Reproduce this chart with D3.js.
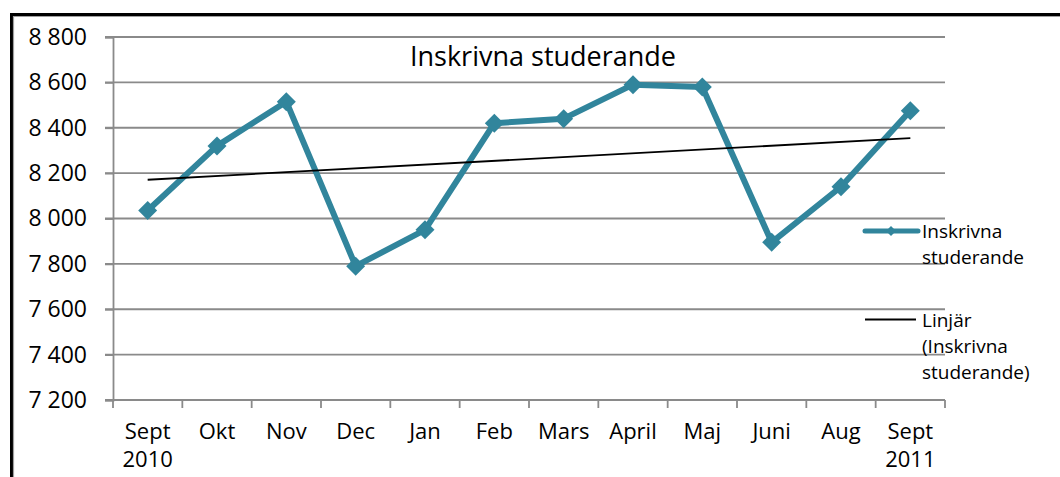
<!DOCTYPE html>
<html>
<head>
<meta charset="utf-8">
<script src="https://cdn.jsdelivr.net/npm/d3@7"></script>
<style>
  html, body { margin: 0; padding: 0; background: #fff; }
  svg { display: block; font-family: "Open Sans", sans-serif; }
</style>
</head>
<body>
<svg id="chart" width="1060" height="477"></svg>
<script>
// ---- data ----
const categories = ["Sept\n2010", "Okt", "Nov", "Dec", "Jan", "Feb", "Mars", "April", "Maj", "Juni", "Aug", "Sept\n2011"];
const values = [8035, 8320, 8515, 7790, 7950, 8420, 8440, 8590, 8580, 7895, 8140, 8475];
const yTicks = [7200, 7400, 7600, 7800, 8000, 8200, 8400, 8600, 8800];
const titleText = "Inskrivna studerande";
const seriesName = "Inskrivna studerande";
const trendName = "Linjär (Inskrivna studerande)";

// ---- layout ----
const svg = d3.select("#chart");
const W = 1060, H = 477;
const plot = { left: 113, right: 945, top: 37, bottom: 400 };
const teal = "#31859c";
const gridColor = "#8a8a8a";

// outer frame
svg.append("path").attr("d", `M11.5,${H + 5} V14.5 H${W + 5}`)
  .attr("fill", "none").attr("stroke", "#000").attr("stroke-width", 3);
svg.append("path").attr("d", `M13.5,${H + 5} V16.5 H${W + 5}`)
  .attr("fill", "none").attr("stroke", "#a0a0a0").attr("stroke-width", 1.2);

const x = d3.scaleBand().domain(categories).range([plot.left, plot.right]).paddingInner(0).paddingOuter(0);
const cx = d => x(d) + x.bandwidth() / 2;
const y = d3.scaleLinear().domain([7200, 8800]).range([plot.bottom, plot.top]);

const locale = d3.formatLocale({ decimal: ",", thousands: " ", grouping: [3], currency: ["", " kr"] });
const fmt = locale.format(",d");

// gridlines
svg.append("g").selectAll("line").data(yTicks).join("line")
  .attr("x1", plot.left - 8).attr("x2", plot.right)
  .attr("y1", d => y(d)).attr("y2", d => y(d))
  .attr("stroke", gridColor).attr("stroke-width", 1.8);

// y axis
const yAxis = svg.append("g").attr("transform", `translate(${plot.left},0)`)
  .call(d3.axisLeft(y).tickValues(yTicks).tickFormat(fmt).tickSize(8).tickPadding(18));
yAxis.select(".domain").attr("stroke", gridColor).attr("stroke-width", 1.8);
yAxis.selectAll(".tick line").attr("stroke", gridColor).attr("stroke-width", 1.8);
yAxis.selectAll("text").attr("font-size", 23).attr("fill", "#000")
  .attr("font-family", "Open Sans, sans-serif");

// x axis
const xAxisG = svg.append("g").attr("transform", `translate(0,${plot.bottom})`);
xAxisG.append("line").attr("x1", plot.left).attr("x2", plot.right).attr("y1", 0).attr("y2", 0)
  .attr("stroke", gridColor).attr("stroke-width", 1.8);
const bounds = categories.map(d => x(d)).concat([plot.right]);
xAxisG.selectAll("line.tk").data(bounds).join("line").attr("class", "tk")
  .attr("x1", d => d).attr("x2", d => d).attr("y1", 0).attr("y2", 8)
  .attr("stroke", gridColor).attr("stroke-width", 1.8);
const xl = xAxisG.selectAll("text").data(categories).join("text")
  .attr("x", d => cx(d)).attr("y", 39)
  .attr("text-anchor", "middle").attr("font-size", 22).attr("fill", "#000");
xl.each(function (d) {
  const parts = d.split("\n");
  const t = d3.select(this);
  parts.forEach((p, i) => {
    t.append("tspan").attr("x", cx(d)).attr("dy", i === 0 ? 0 : 28).text(p);
  });
});

// title
svg.append("text").attr("x", 543).attr("y", 66).attr("text-anchor", "middle")
  .attr("font-size", 27).attr("fill", "#000").text(titleText);

// trend line (least squares)
const n = values.length;
const xs = d3.range(1, n + 1);
const mx = d3.mean(xs), my = d3.mean(values);
const slope = d3.sum(xs, (xi, i) => (xi - mx) * (values[i] - my)) / d3.sum(xs, xi => (xi - mx) ** 2);
const intercept = my - slope * mx;
const trendPts = [[cx(categories[0]), y(intercept + slope * 1)], [cx(categories[n - 1]), y(intercept + slope * n)]];

// series line
const line = d3.line().x((d, i) => cx(categories[i])).y(d => y(d));
svg.append("path").datum(values).attr("d", line)
  .attr("fill", "none").attr("stroke", teal).attr("stroke-width", 6).attr("stroke-linejoin", "round");

svg.append("g").selectAll("path").data(values).join("path")
  .attr("d", d3.symbol().type(d3.symbolSquare).size(180))
  .attr("transform", (d, i) => `translate(${cx(categories[i])},${y(d)}) rotate(45)`)
  .attr("fill", teal);

svg.append("path").attr("d", d3.line()(trendPts))
  .attr("stroke", "#000").attr("stroke-width", 1.8).attr("fill", "none");

// legend
const lg = svg.append("g");
lg.append("line").attr("x1", 865).attr("x2", 918).attr("y1", 231).attr("y2", 231)
  .attr("stroke", teal).attr("stroke-width", 5).attr("stroke-linecap", "round");
lg.append("path").attr("d", d3.symbol().type(d3.symbolSquare).size(50))
  .attr("transform", "translate(891,231) rotate(45)").attr("fill", teal);
const lt1 = lg.append("text").attr("x", 922).attr("y", 238).attr("font-size", 19).attr("fill", "#000");
lt1.append("tspan").attr("x", 922).attr("dy", 0).text(seriesName.split(" ")[0]);
lt1.append("tspan").attr("x", 922).attr("dy", 26).text(seriesName.split(" ")[1]);

lg.append("line").attr("x1", 865).attr("x2", 916).attr("y1", 319.5).attr("y2", 319.5)
  .attr("stroke", "#000").attr("stroke-width", 1.8);
const lt2 = lg.append("text").attr("x", 922).attr("y", 327).attr("font-size", 19).attr("fill", "#000");
trendName.split(" ").forEach((p, i) => {
  lt2.append("tspan").attr("x", 922).attr("dy", i === 0 ? 0 : 26).text(p);
});
</script>
</body>
</html>
